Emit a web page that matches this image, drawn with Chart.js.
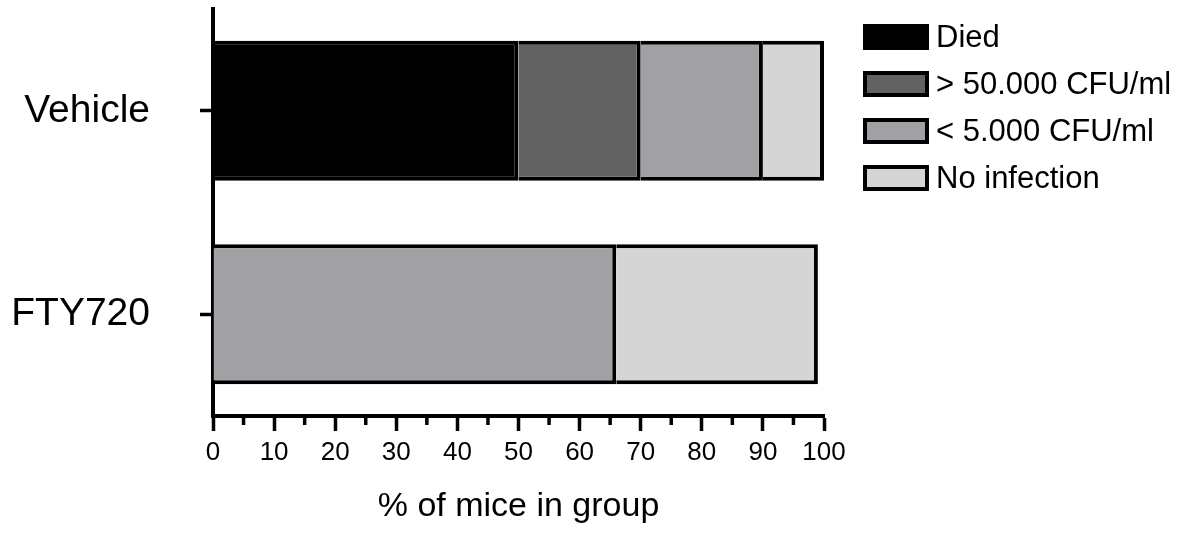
<!DOCTYPE html>
<html>
<head>
<meta charset="utf-8">
<script src="https://cdn.jsdelivr.net/npm/chart.js@4.4.1/dist/chart.umd.min.js"></script>
<style>
  html, body { margin: 0; padding: 0; background: #ffffff; }
  #wrap { width: 1200px; height: 535px; position: relative; }
</style>
</head>
<body>
<div id="wrap"><canvas id="c" width="1200" height="535"></canvas></div>
<script>
// ---- data ----
const categories = ['Vehicle', 'FTY720'];
const seriesLabels = ['Died', '> 50.000 CFU/ml', '< 5.000 CFU/ml', 'No infection'];
const died = [50, null];
const over50000 = [20, null];
const under5000 = [20, 66];
const noInfection = [10, 33];
const seriesColors = ['#000000', '#626262', '#a1a1a5', '#d5d5d5'];
const xMin = 0, xMax = 100, xMajorStep = 10, xMinorStep = 5;
const xTitle = '% of mice in group';

const FONT = "'Liberation Sans', Arial, Helvetica, sans-serif";
const seriesValues = [died, over50000, under5000, noInfection];

const datasets = seriesLabels.map((lab, i) => ({
  label: lab,
  data: seriesValues[i],
  backgroundColor: seriesColors[i],
  borderColor: '#000000',
  borderWidth: { top: 4, right: 4, bottom: 4, left: 0 },
  borderSkipped: false,
  barPercentage: 0.688,
  categoryPercentage: 1.0
}));

const minorTicks = {
  id: 'minorTicks',
  afterDraw(chart) {
    const sx = chart.scales.x;
    const ctx = chart.ctx;
    const y0 = chart.chartArea.bottom;
    ctx.save();
    ctx.strokeStyle = '#000';
    ctx.lineWidth = 3.5;
    for (let v = xMin + xMinorStep; v < xMax; v += xMajorStep) {
      const px = sx.getPixelForValue(v);
      ctx.beginPath();
      ctx.moveTo(px, y0);
      ctx.lineTo(px, y0 + 9);
      ctx.stroke();
    }
    ctx.restore();
  }
};

const customLegend = {
  id: 'customLegend',
  afterDraw(chart) {
    const ctx = chart.ctx;
    const x0 = chart.chartArea.right + 39;
    const boxW = 66, boxH = 26, bw = 4;
    ctx.save();
    ctx.font = '31px ' + FONT;
    ctx.textBaseline = 'middle';
    ctx.textAlign = 'left';
    chart.data.datasets.forEach((ds, i) => {
      const cy = 37 + i * 47;
      const top = cy - boxH / 2;
      ctx.fillStyle = '#000';
      ctx.fillRect(x0, top, boxW, boxH);
      ctx.fillStyle = ds.backgroundColor;
      ctx.fillRect(x0 + bw, top + bw, boxW - 2 * bw, boxH - 2 * bw);
      ctx.fillStyle = '#000';
      ctx.fillText(ds.label, x0 + boxW + 7, cy + 1);
    });
    ctx.restore();
  }
};

new Chart(document.getElementById('c'), {
  type: 'bar',
  data: { labels: categories, datasets },
  options: {
    indexAxis: 'y',
    responsive: false,
    animation: false,
    events: [],
    layout: { padding: { left: 0, right: 376, top: 9, bottom: 0 } },
    plugins: { legend: { display: false }, tooltip: { enabled: false } },
    scales: {
      x: {
        type: 'linear',
        stacked: true,
        min: xMin,
        max: xMax,
        position: 'bottom',
        border: { color: '#000', width: 4 },
        grid: {
          drawOnChartArea: false,
          tickLength: 15,
          tickWidth: 3.5,
          tickColor: (c) => (c.tick && c.tick.value % xMajorStep === 0) ? '#000' : 'rgba(0,0,0,0)'
        },
        ticks: {
          stepSize: xMinorStep,
          autoSkip: false,
          maxRotation: 0,
          color: '#000',
          padding: 6,
          font: { family: FONT, size: 26 },
          callback: (v) => (v % xMajorStep === 0 ? String(v) : '')
        },
        title: {
          display: true,
          text: xTitle,
          color: '#000',
          font: { family: FONT, size: 34 },
          padding: { top: 0, bottom: 8 }
        },
        afterFit: (s) => { s.height = 119; s.paddingLeft = 0; s.paddingRight = 0; }
      },
      y: {
        stacked: true,
        border: { color: '#000', width: 4 },
        grid: {
          drawOnChartArea: false,
          offset: false,
          tickLength: 13,
          tickWidth: 3.5,
          tickColor: '#000'
        },
        ticks: {
          color: '#000',
          padding: 50,
          font: { family: FONT, size: 39 }
        },
        afterFit: (s) => { s.width = 213; s.paddingTop = 0; s.paddingBottom = 0; }
      }
    }
  },
  plugins: [minorTicks, customLegend]
});
</script>
</body>
</html>
